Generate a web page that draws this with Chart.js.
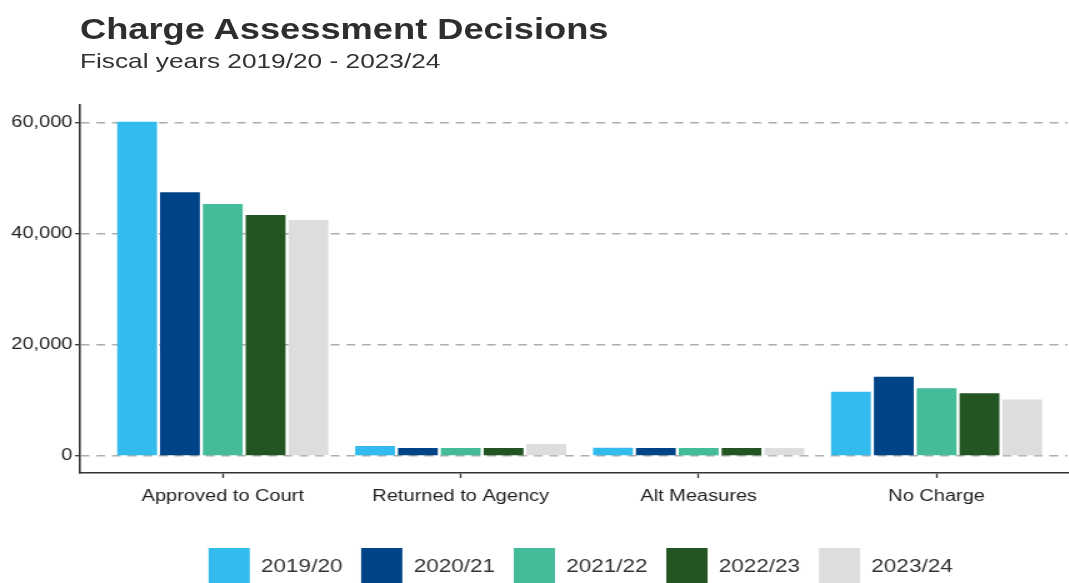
<!DOCTYPE html>
<html>
<head>
<meta charset="utf-8">
<script src="https://cdn.jsdelivr.net/npm/chart.js@4"></script>
<style>
  html, body { margin: 0; padding: 0; background: #fff; overflow: hidden; }
  /* the reference is stretched sideways, so draw narrow and widen */
  #wrap { position: relative; width: 855px; height: 583px; transform: scaleX(1.25); transform-origin: 0 0; }
  .title { position: absolute; left: 64px; top: 15px; font: bold 29px "Liberation Sans", Arial, sans-serif; line-height: 29px; color: #2e2e2e; white-space: nowrap; }
  .subtitle { position: absolute; left: 64px; top: 50px; font: 21px "Liberation Sans", Arial, sans-serif; line-height: 21px; color: #333; white-space: nowrap; }
  #chart { position: absolute; left: 0; top: 0; }
</style>
</head>
<body>
<div id="wrap">
  <div class="title">Charge Assessment Decisions</div>
  <div class="subtitle">Fiscal years 2019/20 - 2023/24</div>
  <canvas id="chart" width="855" height="583"></canvas>
</div>
<script>
const categories = ['Approved to Court', 'Returned to Agency', 'Alt Measures', 'No Charge'];
const years = ['2019/20', '2020/21', '2021/22', '2022/23', '2023/24'];
const colors = ['#33BBEE', '#004488', '#44BB99', '#225522', '#DDDDDD'];

const fy1920 = [60200, 1800, 1500, 11600];
const fy2021 = [47500, 1450, 1450, 14300];
const fy2122 = [45400, 1450, 1450, 12200];
const fy2223 = [43400, 1450, 1450, 11300];
const fy2324 = [42500, 2150, 1450, 10200];

const yTicks = [0, 20000, 40000, 60000];

const series = [fy1920, fy2021, fy2122, fy2223, fy2324];

const font = "'Liberation Sans', Arial, sans-serif";

// push the legend over so it centres on the panel, like ggplot does
const legendShift = {
    id: 'legendShift',
    afterLayout(chart) {
        chart.legend.left += 75;
    }
};

const data = {
    labels: categories,
    datasets: series.map((vals, i) => ({
        label: years[i],
        data: vals,
        backgroundColor: colors[i],
        borderWidth: 0,
        categoryPercentage: 0.9,
        barPercentage: 0.93
    }))
};

const config = {
    type: 'bar',
    data,
    options: {
        responsive: false,
        animation: false,
        devicePixelRatio: 1,
        layout: {
            padding: {top: 105, left: 0, right: 1, bottom: -13}
        },
        scales: {
            x: {
                // ggplot pads a discrete axis by 0.6 of a band, and the right side is cut off
                afterBuildTicks: (scale) => {
                    scale._startValue = -0.6;
                    scale._valueRange = 4.15;
                },
                afterFit: (scale) => { scale.height = 60; },
                ticks: {
                    autoSkip: false,
                    maxRotation: 0,
                    padding: 9,
                    color: '#1e1e1e',
                    font: {family: font, size: 16}
                },
                grid: {
                    offset: false,
                    drawOnChartArea: false,
                    drawTicks: true,
                    tickLength: 5,
                    tickColor: '#333',
                    tickWidth: 1.3
                },
                border: {display: true, color: '#333', width: 1.6}
            },
            y: {
                min: -3060,
                max: 63240,
                afterBuildTicks: (scale) => {
                    scale.ticks = yTicks.map(v => ({value: v}));
                },
                afterFit: (scale) => { scale.width = 64; },
                ticks: {
                    padding: 2,
                    color: '#222',
                    font: {family: font, size: 16},
                    callback: (v) => v.toLocaleString('en-US')
                },
                grid: {
                    color: '#aeaeae',
                    lineWidth: 1.4,
                    tickLength: 4,
                    tickColor: '#333',
                    tickWidth: 1.3,
                    tickBorderDash: []
                },
                border: {display: true, color: '#333', width: 1.6, dash: [7, 5.5]}
            }
        },
        plugins: {
            legend: {
                position: 'bottom',
                labels: {
                    boxWidth: 33,
                    boxHeight: 38,
                    padding: 15,
                    color: '#333',
                    font: {family: font, size: 18}
                }
            },
            tooltip: {enabled: false}
        }
    },
    plugins: [legendShift]
};

new Chart(document.getElementById('chart'), config);
</script>
</body>
</html>
